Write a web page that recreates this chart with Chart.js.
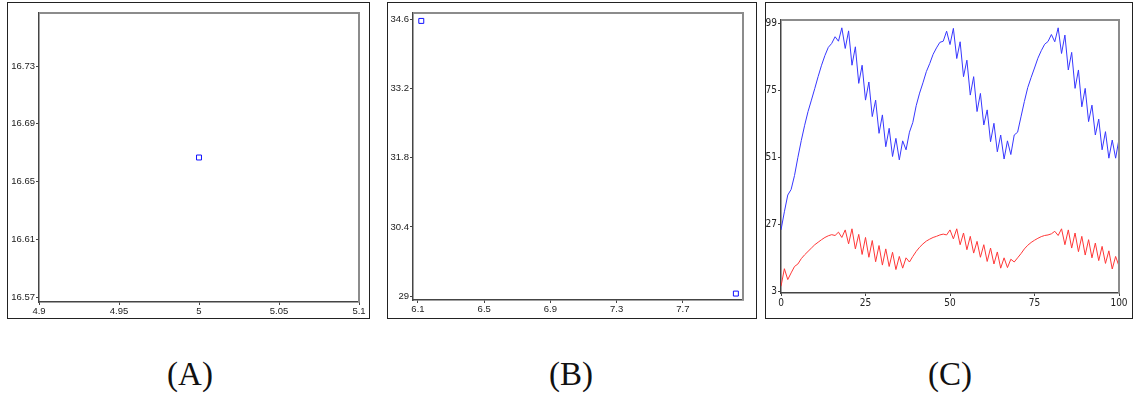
<!DOCTYPE html>
<html lang="en">
<head>
  <meta charset="UTF-8">
  <title>Panels A, B, C</title>
  <script src="https://cdn.jsdelivr.net/npm/chart.js@4.4.1/dist/chart.umd.min.js"></script>
  <style>
    body { margin: 0; background: #fff; width: 1133px; height: 398px; position: relative; overflow: hidden; }
    .frame { position: absolute; border: 1px solid #222; box-sizing: border-box; }
    .frame canvas { display: block; }
    .cap { position: absolute; width: 120px; text-align: center; font-family: "Liberation Serif", serif; font-size: 33px; line-height: 33px; color: #111; }
  </style>
</head>
<body>
  <div class="frame" style="left:7px;top:2px;width:363px;height:317px;"><canvas id="cA" width="361" height="315"></canvas></div>
  <div class="frame" style="left:387px;top:2px;width:370px;height:317px;"><canvas id="cB" width="368" height="315"></canvas></div>
  <div class="frame" style="left:765px;top:2px;width:368px;height:317px;"><canvas id="cC" width="366" height="315"></canvas></div>
  <div class="cap" style="left:130px;top:358px;">(A)</div>
  <div class="cap" style="left:511px;top:358px;">(B)</div>
  <div class="cap" style="left:890px;top:358px;">(C)</div>
  <script>
    // panel A: a single point
    const ptsAx = [5];
    const ptsAy = [16.6667];
    const ticksAx = [4.9, 4.95, 5, 5.05, 5.1];
    const ticksAy = [16.57, 16.61, 16.65, 16.69, 16.73];

    // panel B: two points
    const ptsBx = [6.12, 8.02];
    const ptsBy = [34.57, 29.05];
    const ticksBx = [6.1, 6.5, 6.9, 7.3, 7.7];
    const ticksBy = [29, 30.4, 31.8, 33.2, 34.6];

    // panel C: two series, one value per step 0..100
    const blueC = [25, 31.5, 37.5, 39.5, 44.5, 51, 57, 62.5, 67.4, 71.5,
      75.7, 80, 84, 87.5, 90.4, 91.8, 94.2, 92.6, 97.4, 90,
      96.3, 84, 90.6, 77.5, 84, 71.5, 78, 65.6, 71.5, 59.6,
      66.2, 54.8, 61.4, 51.3, 57.8, 50.1, 56.9, 53.7, 60, 63.5,
      69.5, 74, 77.7, 81.7, 84.6, 87.9, 90.2, 92.2, 92.6, 96.2,
      91.4, 97.2, 86.4, 92.4, 79.9, 85.8, 73.3, 79.9, 67.4, 73.9,
      62.6, 68, 56.6, 63.2, 53, 59, 50.4, 56.9, 52, 59,
      60, 65.5, 71, 76, 79.6, 83, 86.5, 89.2, 91.5, 92.5,
      95, 92.4, 97.4, 88.2, 94.8, 82.3, 88.6, 75.7, 82.3, 69.1,
      75.7, 63.8, 69.7, 59, 64.7, 53.7, 60.2, 50.7, 57.2, 50.7,
      57.6];
    const redC = [4.8, 11.1, 7.2, 9.6, 11.9, 12.8, 14.7, 16.1, 17.3, 18.5,
      19.7, 20.6, 21.5, 22.3, 22.9, 23.3, 23, 24.2, 22.3, 25,
      20, 25.4, 18.2, 23.4, 16.2, 22.3, 15.2, 21.2, 13.6, 19.4,
      12.4, 18.2, 11.9, 17, 10.8, 15.5, 11.3, 15, 13.5, 15.5,
      17.3, 18.8, 20, 21, 21.7, 22.3, 22.7, 23.2, 23.5, 23.2,
      25, 21.8, 25.4, 19.7, 23.9, 17.9, 22.7, 16.7, 20.9, 15.2,
      19.7, 13.7, 18.5, 12.8, 17.1, 11.3, 15, 11.5, 14.5, 13.5,
      15, 16.5, 18.2, 19.5, 20.5, 21.3, 22, 22.6, 23, 23.2,
      23.6, 24.5, 23, 25.4, 19.7, 25, 18.5, 23.9, 17.2, 22.7,
      16, 21.5, 15, 20.3, 14, 19.1, 13, 17.5, 11, 15.5,
      12];
    const ticksCx = [0, 25, 50, 75, 100];
    const ticksCy = [3, 27, 51, 75, 99];

    // grey top/right edge of the plot box
    const plotFrame = {
      id: 'plotFrame',
      afterDraw(chart) {
        const { ctx, chartArea: a } = chart;
        ctx.save();
        ctx.strokeStyle = '#8c8c8c';
        ctx.lineWidth = 2;
        ctx.beginPath();
        ctx.moveTo(a.left, a.top);
        ctx.lineTo(a.right, a.top);
        ctx.lineTo(a.right, a.bottom);
        ctx.stroke();
        ctx.restore();
      }
    };

    function axis(min, max, ticks, size, horizontal, font) {
      return {
        type: 'linear',
        min: min,
        max: max,
        afterBuildTicks: s => { s.ticks = ticks.map(v => ({ value: v })); },
        afterFit: s => { if (horizontal) s.height = size; else s.width = size; },
        grid: { drawOnChartArea: false, drawTicks: true, tickLength: 3, color: '#444' },
        border: { display: true, color: '#444', width: 1.5 },
        ticks: {
          padding: 1,
          color: '#222',
          maxRotation: 0,
          autoSkip: false,
          font: font,
          callback: v => String(v)
        }
      };
    }

    const smallFont = { family: 'Liberation Sans', size: 9.5 };
    const narrowFont = { family: "'Liberation Sans Narrow', 'DejaVu Sans Condensed', sans-serif", size: 10 };

    function pointChart(id, xs, ys, xr, yr, tx, ty, padTop, padRight, yW, xH) {
      return new Chart(document.getElementById(id), {
        type: 'scatter',
        data: {
          datasets: [{
            data: xs.map((x, i) => ({ x: x, y: ys[i] })),
            pointStyle: 'rect',
            radius: 3.5,
            borderColor: '#1010ff',
            backgroundColor: '#ffffff',
            borderWidth: 1
          }]
        },
        options: {
          responsive: false,
          animation: false,
          layout: { padding: { top: padTop, right: padRight, left: 0, bottom: 0 } },
          plugins: { legend: { display: false }, tooltip: { enabled: false } },
          scales: {
            x: axis(xr[0], xr[1], tx, xH, true, smallFont),
            y: axis(yr[0], yr[1], ty, yW, false, smallFont)
          }
        },
        plugins: [plotFrame]
      });
    }

    pointChart('cA', ptsAx, ptsAy, [4.9, 5.1], [16.5667, 16.7667], ticksAx, ticksAy, 10, 10, 31, 16);
    pointChart('cB', ptsBx, ptsBy, [6.07, 8.063], [28.92, 34.73], ticksBx, ticksBy, 10, 13, 25, 18);

    new Chart(document.getElementById('cC'), {
      type: 'line',
      data: {
        datasets: [{
          data: blueC.map((v, i) => ({ x: i, y: v })),
          borderColor: 'rgb(55,55,255)',
          borderWidth: 1,
          pointRadius: 0,
          tension: 0
        }, {
          data: redC.map((v, i) => ({ x: i, y: v })),
          borderColor: 'rgb(255,55,55)',
          borderWidth: 1,
          pointRadius: 0,
          tension: 0
        }]
      },
      options: {
        responsive: false,
        animation: false,
        layout: { padding: { top: 17, right: 13, left: 0, bottom: 0 } },
        plugins: { legend: { display: false }, tooltip: { enabled: false } },
        scales: {
          x: axis(0, 100, ticksCx, 25, true, narrowFont),
          y: axis(2.4, 100.2, ticksCy, 15, false, narrowFont)
        }
      },
      plugins: [plotFrame]
    });
  </script>
</body>
</html>
